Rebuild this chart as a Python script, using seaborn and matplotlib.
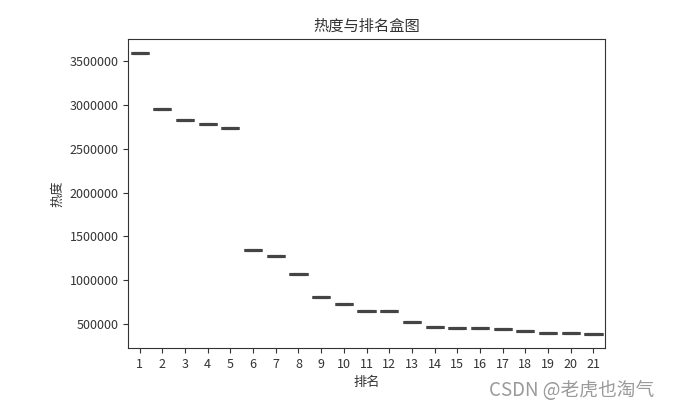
import pandas as pd
import seaborn as sns
import matplotlib.pyplot as plt

# rank and heat values (one value per rank)
ranks = list(range(1, 22))
heat = [3595000, 2959000, 2834000, 2784000, 2735000, 1341000, 1277000,
        1065000, 803000, 724000, 644000, 644000, 516000, 466000, 451000,
        449000, 436000, 417000, 398000, 398000, 383000]

df = pd.DataFrame({'排名': ranks, '热度': heat})

plt.rcParams['font.family'] = ['Noto Sans CJK SC', 'DejaVu Sans']
plt.rcParams['axes.unicode_minus'] = False

fig = plt.figure(figsize=(6.75, 4.13), dpi=100)
ax = fig.add_axes([0.19, 0.157, 0.706, 0.749])

sns.boxplot(x='排名', y='热度', data=df, ax=ax, color='#3274a1',
            linecolor='#444444', linewidth=2.2, width=0.8)

ax.set_title('热度与排名盒图', fontsize=11, color='#333333')
ax.set_xlabel('排名', fontsize=9.5, color='#333333')
ax.set_ylabel('热度', fontsize=9.5, color='#333333')
ax.tick_params(labelsize=9, colors='#333333')
ax.ticklabel_format(axis='y', style='plain')
for s in ax.spines.values():
    s.set_color('#333333')

# watermark
fig.text(0.724, 0.04, 'CSDN @老虎也淘气', fontsize=13.5, color='#9a9a9a')

plt.savefig('out.png', dpi=100)
